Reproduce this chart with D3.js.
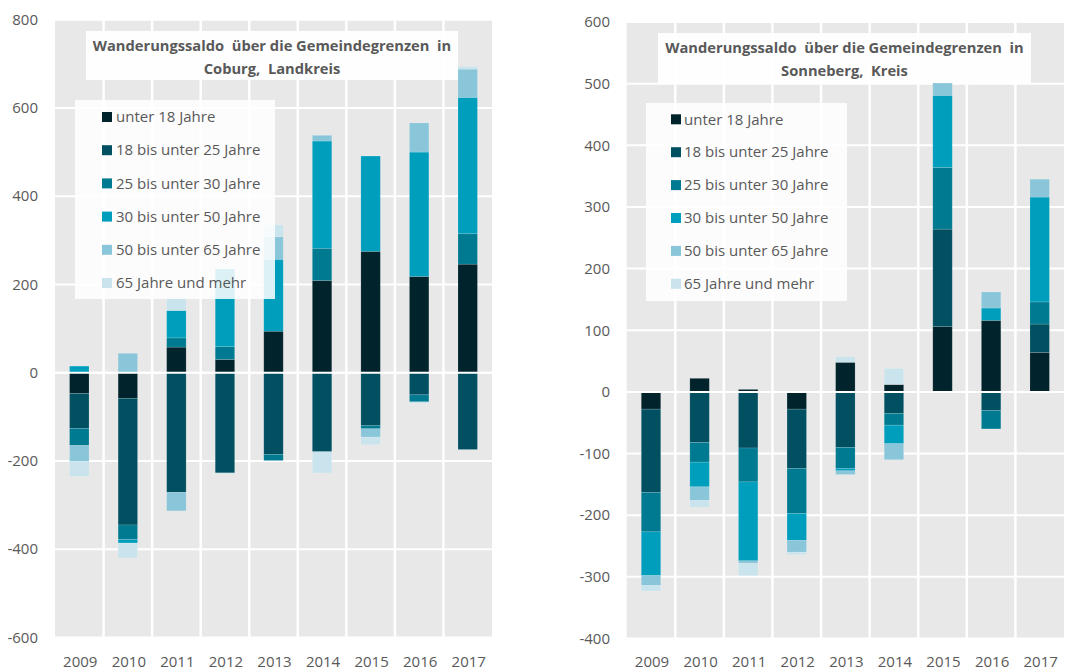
<!DOCTYPE html>
<html>
<head>
<meta charset="utf-8">
<script src="https://cdn.jsdelivr.net/npm/d3@7"></script>
<style>
  body { margin: 0; background: #fff; }
  svg { display: block; font-family: "Open Sans", "Noto Sans", sans-serif; }
</style>
</head>
<body>
<script>
// categories
const years = ["2009", "2010", "2011", "2012", "2013", "2014", "2015", "2016", "2017"];
const ageGroups = [
  "unter 18 Jahre",
  "18 bis unter 25 Jahre",
  "25 bis unter 30 Jahre",
  "30 bis unter 50 Jahre",
  "50 bis unter 65 Jahre",
  "65 Jahre und mehr"
];
const colors = ["#00232C", "#005062", "#007A90", "#009EBD", "#8AC6D9", "#C9E4EC"];

// Coburg, Landkreis (one array per age group, values per year)
const coburgU18   = [-47, -58,   58,   30,   94,  209,  275,  218,  246];
const coburg18_25 = [-79, -287, -271, -227, -185, -179, -120, -50, -174];
const coburg25_30 = [-39, -33,   21,   29,  -14,   73,   -7,  -16,   69];
const coburg30_50 = [ 15,  -8,   62,  176,  163,  243,  216,  282,  309];
const coburg50_65 = [-36,  44,  -42,    0,   51,   13,  -19,   66,   64];
const coburg65    = [-34, -34,   31,   -2,   27,  -48,  -17,   -3,    6];

// Sonneberg, Kreis
const sonnU18   = [ -28,  22,    4,  -28,  48,  12, 106, 116,  64];
const sonn18_25 = [-135, -82,  -91,  -96, -90, -35, 158, -30,  46];
const sonn25_30 = [ -64, -32,  -55,  -73, -34, -19, 100, -30,  36];
const sonn30_50 = [ -71, -40, -128,  -44,  -4, -30, 117,  20, 170];
const sonn50_65 = [ -16, -22,   -4,  -19,  -6, -26,  20,  26,  29];
const sonn65    = [  -9, -11,  -20,   -4,   9,  26,   0,   0,  -2];

// tick values
const coburgTicks = [-600, -400, -200, 0, 200, 400, 600, 800];
const sonnTicks = [-400, -300, -200, -100, 0, 100, 200, 300, 400, 500, 600];

// build a row-per-year table for d3.stack
function table(series) {
  return years.map((y, i) => {
    const row = { year: y };
    ageGroups.forEach((g, k) => row[g] = series[k][i]);
    return row;
  });
}

const svg = d3.select("body").append("svg")
  .attr("width", 1078)
  .attr("height", 670);

function drawChart(cfg) {
  const g = svg.append("g");
  const x = d3.scaleBand().domain(years).range(cfg.xRange).paddingInner(0).paddingOuter(0);
  const y = d3.scaleLinear().domain(d3.extent(cfg.ticks)).range(cfg.yRange);

  // plot background
  g.append("rect")
    .attr("x", cfg.xRange[0]).attr("y", y(cfg.ticks[cfg.ticks.length - 1]))
    .attr("width", cfg.xRange[1] - cfg.xRange[0])
    .attr("height", y(cfg.ticks[0]) - y(cfg.ticks[cfg.ticks.length - 1]))
    .attr("fill", "#E8E8E8");

  // horizontal gridlines
  g.append("g").selectAll("line").data(cfg.ticks).join("line")
    .attr("x1", cfg.xRange[0]).attr("x2", cfg.xRange[1])
    .attr("y1", d => y(d)).attr("y2", d => y(d))
    .attr("stroke", "#fff").attr("stroke-width", 2);

  // vertical separators between categories
  g.append("g").selectAll("line").data(years.slice(1)).join("line")
    .attr("x1", d => x(d)).attr("x2", d => x(d))
    .attr("y1", y(cfg.ticks[0])).attr("y2", y(cfg.ticks[cfg.ticks.length - 1]))
    .attr("stroke", "#fff").attr("stroke-width", 2.5);

  // stacked bars, positives up and negatives down like Excel
  const stacked = d3.stack().keys(ageGroups).offset(d3.stackOffsetDiverging)(table(cfg.series));
  const bw = x.bandwidth() * 0.4;
  g.append("g").selectAll("g").data(stacked).join("g")
    .attr("fill", (d, i) => colors[i])
    .selectAll("rect").data(d => d.filter(p => p[1] !== p[0])).join("rect")
    .attr("x", d => x(d.data.year) + (x.bandwidth() - bw) / 2)
    .attr("width", bw)
    .attr("y", d => y(d[1]))
    .attr("height", d => y(d[0]) - y(d[1]))
    .attr("stroke", "#fff").attr("stroke-opacity", 0.18).attr("stroke-width", 0.75);

  // zero axis line drawn over the bars
  g.append("line")
    .attr("x1", cfg.xRange[0]).attr("x2", cfg.xRange[1])
    .attr("y1", y(0)).attr("y2", y(0))
    .attr("stroke", "#fff").attr("stroke-width", 2);

  // y tick labels
  g.append("g").selectAll("text").data(cfg.ticks).join("text")
    .attr("x", cfg.tickX).attr("y", d => y(d))
    .attr("dy", "0.35em").attr("text-anchor", "end")
    .attr("fill", "#595959").style("font-size", "15px")
    .text(d => d);

  // x labels
  g.append("g").selectAll("text").data(years).join("text")
    .attr("x", d => x(d) + x.bandwidth() / 2 + 1).attr("y", 662)
    .attr("dy", "0.35em").attr("text-anchor", "middle")
    .attr("fill", "#595959").style("font-size", "15px")
    .text(d => d);

  // title box
  const t = cfg.title;
  g.append("rect").attr("x", t.x).attr("y", t.y).attr("width", t.w).attr("height", t.h)
    .attr("fill", "#fff").attr("fill-opacity", 0.92);
  g.append("g").selectAll("text").data(t.lines).join("text")
    .attr("x", t.x + t.w / 2).attr("y", (d, i) => t.line0 + i * 22.5)
    .attr("dy", "0.35em").attr("text-anchor", "middle")
    .attr("fill", "#595959").style("font-size", "14.7px").style("font-weight", "bold")
    .style("white-space", "pre")
    .text(d => d);

  // legend box
  const l = cfg.legend;
  g.append("rect").attr("x", l.x).attr("y", l.y).attr("width", l.w).attr("height", l.h)
    .attr("fill", "#fff").attr("fill-opacity", 0.86);
  const item = g.append("g").selectAll("g").data(ageGroups).join("g")
    .attr("transform", (d, i) => `translate(0,${l.row0 + i * l.step})`);
  item.append("rect")
    .attr("x", l.swatchX).attr("y", -5).attr("width", 10).attr("height", 10)
    .attr("fill", (d, i) => colors[i]);
  item.append("text")
    .attr("x", l.textX).attr("dy", "0.35em")
    .attr("fill", "#595959").style("font-size", "15px")
    .text(d => d);
}

drawChart({
  series: [coburgU18, coburg18_25, coburg25_30, coburg30_50, coburg50_65, coburg65],
  ticks: coburgTicks,
  xRange: [55, 492],
  yRange: [637.5, 19.7],
  tickX: 38,
  title: { x: 86, y: 31, w: 372, h: 49, line0: 46, lines: ["Wanderungssaldo  über die Gemeindegrenzen  in", "Coburg,  Landkreis"] },
  legend: { x: 75, y: 100, w: 200, h: 199, swatchX: 102, textX: 116, row0: 117, step: 33.2 }
});

drawChart({
  series: [sonnU18, sonn18_25, sonn25_30, sonn30_50, sonn50_65, sonn65],
  ticks: sonnTicks,
  xRange: [626.7, 1064],
  yRange: [638.5, 22],
  tickX: 610,
  title: { x: 658, y: 33, w: 373, h: 50, line0: 48, lines: ["Wanderungssaldo  über die Gemeindegrenzen  in", "Sonneberg,  Kreis"] },
  legend: { x: 646, y: 103, w: 201, h: 198, swatchX: 671, textX: 684, row0: 119.3, step: 32.9 }
});
</script>
</body>
</html>
